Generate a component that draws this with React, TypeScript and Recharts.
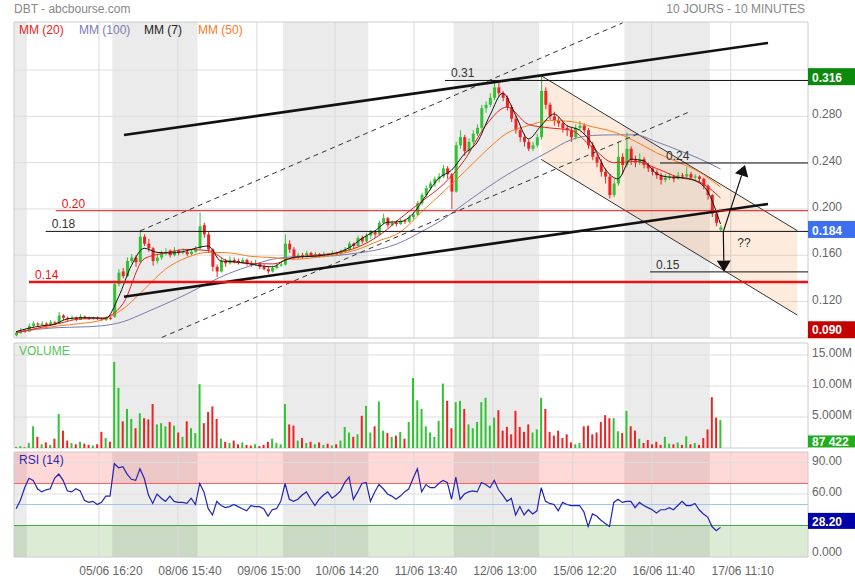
import React from 'react';
import {
  ComposedChart, Bar, Line, Area, Cell, XAxis, YAxis,
  ReferenceLine, ReferenceArea, ReferenceDot,
} from 'recharts';

const FONT = 'Arial, "Liberation Sans", sans-serif';
const UP = '#33c233';
const DOWN = '#ee2222';

// grouped 10-min candles, 20 per session (first session is partial)
const opens = [
  0.091, 0.093, 0.095,
  0.094, 0.099, 0.101, 0.100, 0.101, 0.100, 0.102, 0.101, 0.108, 0.106, 0.105, 0.106, 0.104, 0.107, 0.106, 0.105, 0.106, 0.105, 0.104, 0.106,
  0.107, 0.135, 0.146, 0.142, 0.155, 0.158, 0.154, 0.176, 0.170, 0.166, 0.155, 0.158, 0.162, 0.164, 0.160, 0.164, 0.162, 0.163, 0.161, 0.163,
  0.166, 0.186, 0.178, 0.165, 0.150, 0.146, 0.155, 0.153, 0.156, 0.155, 0.154, 0.156, 0.153, 0.152, 0.153, 0.150, 0.148, 0.146, 0.149, 0.151,
  0.152, 0.170, 0.165, 0.158, 0.160, 0.159, 0.162, 0.160, 0.161, 0.159, 0.161, 0.160, 0.162, 0.161, 0.163, 0.165, 0.170, 0.168, 0.175, 0.172,
  0.177, 0.180, 0.178, 0.188, 0.192, 0.186, 0.188, 0.187, 0.190, 0.189, 0.193, 0.195, 0.205, 0.212, 0.218, 0.222, 0.226, 0.228, 0.235, 0.230,
  0.215, 0.255, 0.262, 0.250, 0.258, 0.265, 0.270, 0.287, 0.290, 0.296, 0.305, 0.300, 0.296, 0.288, 0.278, 0.268, 0.262, 0.258, 0.252, 0.255,
  0.262, 0.302, 0.290, 0.280, 0.276, 0.274, 0.270, 0.268, 0.262, 0.270, 0.272, 0.268, 0.255, 0.245, 0.240, 0.232, 0.228, 0.212, 0.222, 0.245,
  0.238, 0.252, 0.242, 0.240, 0.243, 0.238, 0.235, 0.232, 0.229, 0.225, 0.227, 0.228, 0.226, 0.229, 0.228, 0.230, 0.227, 0.228, 0.226, 0.220,
  0.212, 0.196, 0.182,
];
const highs = [
  0.094, 0.097, 0.096,
  0.101, 0.103, 0.102, 0.103, 0.102, 0.104, 0.103, 0.111, 0.109, 0.107, 0.108, 0.107, 0.109, 0.108, 0.107, 0.107, 0.107, 0.106, 0.107, 0.107,
  0.138, 0.148, 0.149, 0.158, 0.161, 0.160, 0.181, 0.178, 0.174, 0.167, 0.161, 0.164, 0.166, 0.165, 0.167, 0.165, 0.166, 0.164, 0.165, 0.168,
  0.197, 0.188, 0.180, 0.166, 0.152, 0.158, 0.157, 0.159, 0.158, 0.157, 0.158, 0.157, 0.155, 0.156, 0.154, 0.152, 0.150, 0.151, 0.153, 0.154,
  0.178, 0.173, 0.167, 0.162, 0.162, 0.164, 0.163, 0.163, 0.162, 0.163, 0.162, 0.164, 0.163, 0.165, 0.167, 0.172, 0.171, 0.177, 0.177, 0.179,
  0.182, 0.181, 0.190, 0.196, 0.193, 0.190, 0.190, 0.192, 0.191, 0.195, 0.197, 0.207, 0.214, 0.220, 0.224, 0.228, 0.231, 0.238, 0.237, 0.231,
  0.258, 0.268, 0.264, 0.261, 0.268, 0.273, 0.290, 0.293, 0.300, 0.311, 0.309, 0.302, 0.298, 0.290, 0.281, 0.271, 0.265, 0.260, 0.258, 0.265,
  0.316, 0.305, 0.292, 0.284, 0.279, 0.276, 0.272, 0.270, 0.273, 0.276, 0.274, 0.270, 0.258, 0.248, 0.243, 0.235, 0.230, 0.226, 0.258, 0.248,
  0.266, 0.254, 0.246, 0.248, 0.245, 0.240, 0.237, 0.234, 0.231, 0.230, 0.231, 0.229, 0.232, 0.231, 0.236, 0.232, 0.230, 0.229, 0.227, 0.221,
  0.213, 0.199, 0.186,
];
const lows = [
  0.090, 0.092, 0.093,
  0.094, 0.098, 0.098, 0.099, 0.099, 0.099, 0.100, 0.101, 0.104, 0.103, 0.104, 0.103, 0.104, 0.105, 0.104, 0.104, 0.104, 0.103, 0.103, 0.104,
  0.106, 0.133, 0.140, 0.141, 0.153, 0.150, 0.153, 0.168, 0.163, 0.151, 0.153, 0.156, 0.160, 0.158, 0.159, 0.160, 0.161, 0.159, 0.160, 0.162,
  0.165, 0.175, 0.162, 0.146, 0.141, 0.145, 0.150, 0.152, 0.153, 0.152, 0.153, 0.151, 0.150, 0.151, 0.148, 0.147, 0.144, 0.145, 0.148, 0.150,
  0.151, 0.162, 0.156, 0.157, 0.157, 0.158, 0.159, 0.159, 0.158, 0.158, 0.159, 0.159, 0.160, 0.160, 0.162, 0.164, 0.166, 0.167, 0.170, 0.171,
  0.174, 0.175, 0.177, 0.187, 0.184, 0.185, 0.185, 0.186, 0.187, 0.188, 0.191, 0.194, 0.203, 0.210, 0.216, 0.219, 0.223, 0.227, 0.226, 0.200,
  0.214, 0.252, 0.246, 0.248, 0.256, 0.263, 0.268, 0.283, 0.288, 0.294, 0.297, 0.293, 0.285, 0.275, 0.265, 0.258, 0.254, 0.250, 0.250, 0.253,
  0.260, 0.286, 0.277, 0.272, 0.271, 0.266, 0.263, 0.258, 0.260, 0.268, 0.265, 0.252, 0.242, 0.236, 0.228, 0.222, 0.209, 0.210, 0.220, 0.230,
  0.236, 0.238, 0.236, 0.238, 0.235, 0.232, 0.229, 0.226, 0.221, 0.223, 0.225, 0.223, 0.225, 0.226, 0.227, 0.225, 0.225, 0.223, 0.217, 0.208,
  0.193, 0.185, 0.181,
];
const closes = [
  0.093, 0.095, 0.094,
  0.099, 0.101, 0.100, 0.101, 0.100, 0.102, 0.101, 0.108, 0.106, 0.105, 0.106, 0.104, 0.107, 0.106, 0.105, 0.106, 0.105, 0.104, 0.106, 0.105,
  0.135, 0.145, 0.142, 0.155, 0.158, 0.154, 0.176, 0.170, 0.166, 0.155, 0.158, 0.162, 0.163, 0.160, 0.164, 0.162, 0.163, 0.161, 0.163, 0.165,
  0.185, 0.178, 0.165, 0.150, 0.146, 0.155, 0.153, 0.156, 0.155, 0.154, 0.156, 0.153, 0.152, 0.153, 0.150, 0.148, 0.146, 0.149, 0.151, 0.152,
  0.170, 0.165, 0.158, 0.160, 0.159, 0.162, 0.160, 0.161, 0.159, 0.161, 0.160, 0.162, 0.161, 0.163, 0.165, 0.170, 0.168, 0.175, 0.172, 0.177,
  0.180, 0.178, 0.188, 0.192, 0.186, 0.188, 0.187, 0.190, 0.189, 0.193, 0.195, 0.205, 0.212, 0.218, 0.222, 0.226, 0.228, 0.235, 0.230, 0.215,
  0.255, 0.262, 0.250, 0.258, 0.265, 0.270, 0.287, 0.290, 0.296, 0.305, 0.300, 0.296, 0.288, 0.278, 0.268, 0.262, 0.258, 0.252, 0.255, 0.262,
  0.302, 0.290, 0.280, 0.276, 0.274, 0.270, 0.268, 0.262, 0.270, 0.272, 0.268, 0.255, 0.245, 0.240, 0.232, 0.228, 0.212, 0.222, 0.245, 0.238,
  0.252, 0.242, 0.240, 0.243, 0.238, 0.235, 0.232, 0.229, 0.225, 0.227, 0.228, 0.226, 0.229, 0.228, 0.230, 0.227, 0.228, 0.226, 0.220, 0.212,
  0.196, 0.188, 0.184,
];
// volume in millions
const volumes = [
  0.2, 0.3, 0.1,
  0.8, 3.5, 1.8, 0.6, 0.9, 0.5, 1.5, 5.5, 2.8, 1.2, 0.8, 0.6, 1.0, 0.7, 0.5, 0.4, 0.6, 2.6, 1.6, 1.0,
  13.9, 9.7, 4.3, 6.3, 4.7, 3.2, 5.6, 4.8, 4.6, 7.1, 3.8, 4.0, 3.5, 4.2, 3.6, 2.5, 1.8, 4.3, 3.2, 2.4,
  10.3, 4.0, 5.8, 6.7, 4.7, 1.5, 1.0, 0.8, 1.2, 0.6, 0.9, 0.5, 0.4, 0.6, 0.3, 0.5, 1.0, 1.5, 0.8, 0.6,
  7.1, 3.8, 3.6, 1.2, 1.6, 0.8, 1.0, 0.6, 0.9, 0.5, 0.7, 0.4, 0.6, 1.2, 3.4, 2.5, 1.8, 2.2, 5.2, 6.8,
  2.5, 3.5, 7.5, 2.8, 2.4, 1.8, 2.0, 2.6, 1.5, 4.2, 11.3, 7.7, 6.3, 3.5, 2.5, 1.8, 4.4, 10.4, 7.6, 3.2,
  7.4, 7.6, 6.3, 3.8, 3.2, 4.2, 7.4, 8.1, 3.6, 4.9, 6.1, 2.8, 3.4, 2.2, 6.0, 3.4, 2.6, 3.8, 2.5, 3.0,
  8.1, 6.3, 2.6, 2.0, 2.8, 1.6, 2.2, 0.9, 0.6, 0.8, 3.5, 3.6, 2.2, 2.5, 4.2, 5.3, 4.8, 4.8, 2.7, 2.4,
  6.0, 3.5, 2.8, 1.5, 0.8, 1.3, 0.6, 1.0, 0.5, 1.8, 0.7, 0.6, 0.9, 0.5, 1.9, 0.6, 0.8, 0.5, 1.6, 3.0,
  8.2, 4.9, 4.5,
];
const rsi14 = [
  46, 54, 66,
  75, 73, 65, 62, 64, 65, 75, 79, 73, 63, 62, 65, 63, 54, 52, 53, 50, 52, 58, 58,
  89, 85, 86, 79, 74, 73, 84, 75, 59, 51, 60, 56, 53, 58, 53, 52, 52, 51, 56, 50,
  70, 62, 46, 40, 53, 49, 47, 48, 50, 48, 46, 44, 49, 48, 48, 46, 39, 45, 46, 53,
  70, 55, 53, 55, 59, 62, 55, 49, 55, 59, 62, 56, 59, 63, 71, 76, 55, 62, 70, 71,
  53, 62, 69, 65, 60, 58, 55, 58, 62, 65, 75, 84, 62, 69, 66, 66, 70, 73, 71, 55,
  76, 55, 60, 62, 63, 62, 71, 69, 66, 73, 64, 59, 53, 56, 40, 48, 40, 45, 41, 44,
  66, 53, 51, 50, 44, 52, 50, 49, 49, 49, 43, 29, 41, 39, 35, 32, 29, 52, 55, 52,
  53, 53, 47, 52, 49, 47, 45, 42, 45, 45, 47, 45, 49, 53, 49, 49, 51, 45, 41, 38,
  29, 25, 28.2,
];

const maIdx = [0, 5, 10, 15, 20, 25, 30, 35, 40, 45, 50, 55, 60, 65, 70, 75, 80, 85, 90, 95, 100, 105, 110, 115, 120, 125, 130, 135, 140, 145, 150, 155, 160, 165];
const mm20 = [0.093, 0.097, 0.101, 0.105, 0.1055, 0.118, 0.157, 0.162, 0.165, 0.164, 0.1545, 0.153, 0.1525, 0.158, 0.160, 0.162, 0.167, 0.177, 0.192, 0.2065, 0.221, 0.242, 0.272, 0.288, 0.273, 0.270, 0.268, 0.253, 0.240, 0.241, 0.235, 0.2275, 0.2235, 0.2095];
const mm50 = [0.0935, 0.0965, 0.099, 0.101, 0.104, 0.1135, 0.1305, 0.148, 0.158, 0.1625, 0.162, 0.159, 0.158, 0.1565, 0.158, 0.1605, 0.165, 0.1725, 0.180, 0.1975, 0.2145, 0.232, 0.250, 0.2655, 0.272, 0.2765, 0.2755, 0.271, 0.2665, 0.2585, 0.2485, 0.2405, 0.232, 0.219];
const mm100 = [0.0935, 0.096, 0.0975, 0.098, 0.099, 0.1025, 0.110, 0.118, 0.1265, 0.136, 0.1445, 0.151, 0.1565, 0.1586, 0.159, 0.1597, 0.162, 0.165, 0.171, 0.1805, 0.191, 0.2045, 0.2175, 0.2295, 0.240, 0.250, 0.2598, 0.2635, 0.264, 0.264, 0.258, 0.251, 0.2435, 0.2345];
const mm7Idx = [0, 3, 6, 9, 12, 15, 18, 21, 24, 27, 30, 33, 36, 39, 42, 45, 48, 51, 54, 57, 60, 63, 66, 69, 72, 75, 78, 81, 84, 87, 90, 93, 96, 99, 102, 105, 108, 111, 114, 117, 120, 123, 126, 129, 132, 135, 138, 141, 144, 147, 150, 153, 156, 159, 162, 165];
const mm7 = [0.094, 0.097, 0.099, 0.1005, 0.105, 0.106, 0.106, 0.1055, 0.124, 0.151, 0.166, 0.1625, 0.162, 0.163, 0.166, 0.168, 0.155, 0.1545, 0.153, 0.151, 0.150, 0.156, 0.1585, 0.159, 0.160, 0.162, 0.1665, 0.1745, 0.181, 0.1885, 0.189, 0.196, 0.2115, 0.2265, 0.2335, 0.2475, 0.2575, 0.281, 0.300, 0.281, 0.2605, 0.272, 0.282, 0.272, 0.268, 0.256, 0.2345, 0.226, 0.243, 0.2415, 0.2305, 0.2275, 0.227, 0.2245, 0.215, 0.187];

// descending channel
const channelIdx = [123, 183];
const channelLow = [0.2428, 0.1083];
const channelHigh = [0.3151, 0.1812];

// drawn annotations: [slot, price]
const upperTrend = [[25.77, 0.2639], [176.63, 0.3434]];
const lowerTrend = [[25.77, 0.1242], [176.63, 0.2043]];
const upperDash = [[29.52, 0.181], [142.55, 0.3607]];
const lowerDash = [[34.62, 0.089], [158.36, 0.2841]];
const arrowFrom = [166.16, 0.1804];
const arrowUpTo = [171.24, 0.238];
const arrowDownTo = [166.32, 0.1458];
const questionAt = [171.0, 0.1715];

const levelNames = ['0.31', '0.24', '0.20', '0.18', '0.14', '0.15'];
const levelValues = [0.311, 0.2397, 0.1985, 0.1806, 0.1369, 0.1456];
const levelStarts = [100.96, 151.33, 9.77, 7.43, 3.51, 149.0];

const SLOTS = 186;
const sessionBands = [[0, 3], [23, 43], [63, 83], [103, 123], [143, 163]];
const gridX = [19.9, 38.4, 56.9, 75.2, 93.7, 112.2, 130.9, 149.4, 167.9];
const dateLabels = ['05/06 16:20', '08/06 15:40', '09/06 15:00', '10/06 14:20', '11/06 13:40', '12/06 13:00', '15/06 12:20', '16/06 11:40', '17/06 11:10'];

const priceTicks = [0.12, 0.16, 0.2, 0.24, 0.28, 0.32];
const volTicks = [5, 10, 15];
const volTickLabels = ['5.000M', '10.00M', '15.00M'];
const rsiTicks = [0, 30, 60, 90];
const rsiTickLabels = ['0.000', '30.00', '60.00', '90.00'];

const rows: any[] = Array.from({ length: SLOTS }, (_, i) => ({
  i,
  x: i + 0.5,
  o: opens[i], h: highs[i], l: lows[i], c: closes[i],
  vol: volumes[i],
  rsi: rsi14[i],
}));
maIdx.forEach((k, j) => {
  rows[k].mm20 = mm20[j];
  rows[k].mm50 = mm50[j];
  rows[k].mm100 = mm100[j];
});
mm7Idx.forEach((k, j) => { rows[k].mm7 = mm7[j]; });
channelIdx.forEach((k, j) => { rows[k].ch = [channelLow[j], channelHigh[j]]; });

const Candle = (props: any) => {
  const { x, y, width, height, payload } = props;
  if (!payload || payload.c == null || !isFinite(y) || !isFinite(height)) return <g />;
  const top = Math.min(y, y + height);
  const span = Math.abs(height);
  const { o, h, l, c } = payload;
  const at = (v: number) => (h === l ? top : top + ((h - v) / (h - l)) * span);
  const col = c >= o ? UP : DOWN;
  const mid = x + width / 2;
  const b1 = at(Math.max(o, c));
  const b2 = at(Math.min(o, c));
  return (
    <g>
      <line x1={mid} x2={mid} y1={top} y2={top + span} stroke={col} strokeWidth={1} />
      <rect x={x} y={b1} width={width} height={Math.max(1, b2 - b1)} fill={col} />
    </g>
  );
};

const Arrow = (p: any) => {
  const { x1, y1, x2, y2 } = p;
  const dx = x2 - x1;
  const dy = y2 - y1;
  const len = Math.hypot(dx, dy) || 1;
  const ux = dx / len;
  const uy = dy / len;
  const bx = x2 - ux * 11;
  const by = y2 - uy * 11;
  const pts = `${x2},${y2} ${bx - uy * 7},${by + ux * 7} ${bx + uy * 7},${by - ux * 7}`;
  return (
    <g>
      <line x1={x1} y1={y1} x2={bx} y2={by} stroke="#111" strokeWidth={1.2} />
      <polygon points={pts} fill="#111" />
    </g>
  );
};

const SegLabel = ({ viewBox, txt, col }: any) => {
  if (!viewBox) return null;
  return (
    <text x={viewBox.x + 6} y={viewBox.y - 3} fill={col} fontSize={12}>{txt}</text>
  );
};

const ValueBox = ({ viewBox, txt, bg, boxTop, boxH, textY }: any) => {
  if (!viewBox) return null;
  const x = viewBox.x + viewBox.width;
  const y = viewBox.y;
  return (
    <g>
      <rect x={x} y={y + boxTop} width={47} height={boxH} fill={bg} />
      <text x={x + 4} y={y + textY} fill="#fff" fontSize={12} fontWeight="bold">{txt}</text>
    </g>
  );
};

const backdrop = (hLines: number[]) => [
  ...sessionBands.map(([a, b], k) => (
    <ReferenceArea key={'band' + k} xAxisId="n" x1={a} x2={b} fill="#000" fillOpacity={0.08} stroke="none" zIndex={-60} />
  )),
  ...hLines.map((v, k) => (
    <ReferenceLine key={'hg' + k} xAxisId="n" y={v} stroke="#dedede" zIndex={-50} />
  )),
  ...gridX.map((g, k) => (
    <ReferenceLine key={'vg' + k} xAxisId="n" x={g} stroke="#d9d9d9" zIndex={-50} />
  )),
  <ReferenceArea key="frame" xAxisId="n" x1={0} x2={SLOTS} fill="none" stroke="#cccccc" zIndex={-40} />,
];

const seg = (pts: number[][]) => [{ x: pts[0][0], y: pts[0][1] }, { x: pts[1][0], y: pts[1][1] }];

const PriceChart = () => (
  <ComposedChart width={855} height={340} data={rows} margin={{ top: 22, right: 0, bottom: 2, left: 14 }}>
    <XAxis dataKey="i" type="category" hide />
    <XAxis xAxisId="n" dataKey="x" type="number" domain={[0, SLOTS]} allowDataOverflow hide />
    <YAxis
      orientation="right" width={47} domain={[0.0885, 0.3615]} ticks={priceTicks} allowDataOverflow
      axisLine={false} tickLine={false} tickSize={0} tickMargin={4}
      tick={(p: any) => (p.payload.value > 0.3 ? <g /> : (
        <text x={p.x} y={p.y + 2} fill="#666" fontSize={12}>{Number(p.payload.value).toFixed(3)}</text>
      ))}
    />
    {backdrop(priceTicks)}
    <Area
      dataKey="ch" type="linear" connectNulls fill="#f59a55" fillOpacity={0.2}
      stroke="#333" strokeWidth={1} dot={false} activeDot={false} isAnimationActive={false}
    />
    <Bar dataKey={(d: any) => (d.c == null ? null : [d.l, d.h])} barSize={3} shape={<Candle />} isAnimationActive={false} />
    <Line dataKey="mm100" type="monotone" connectNulls stroke="#7b7bb0" strokeWidth={1} dot={false} activeDot={false} isAnimationActive={false} />
    <Line dataKey="mm50" type="monotone" connectNulls stroke="#ff7a1a" strokeWidth={1} dot={false} activeDot={false} isAnimationActive={false} />
    <Line dataKey="mm20" type="monotone" connectNulls stroke="#ee1c1c" strokeWidth={1} dot={false} activeDot={false} isAnimationActive={false} />
    <Line dataKey="mm7" type="monotone" connectNulls stroke="#151515" strokeWidth={1} dot={false} activeDot={false} isAnimationActive={false} />
    <ReferenceLine xAxisId="n" segment={seg(upperDash)} stroke="#333" strokeDasharray="5 4" zIndex={500} />
    <ReferenceLine xAxisId="n" segment={seg(lowerDash)} stroke="#333" strokeDasharray="5 4" zIndex={500} />
    <ReferenceLine xAxisId="n" segment={seg(upperTrend)} stroke="#111" strokeWidth={2.6} zIndex={500} />
    <ReferenceLine xAxisId="n" segment={seg(lowerTrend)} stroke="#111" strokeWidth={2.6} zIndex={500} />
    {levelNames.map((name, k) => {
      const red = name === '0.20' || name === '0.14';
      return (
        <ReferenceLine
          key={'lvl' + k} xAxisId="n" zIndex={500}
          segment={[{ x: levelStarts[k], y: levelValues[k] }, { x: SLOTS, y: levelValues[k] }]}
          stroke={red ? '#ee1111' : '#111'} strokeWidth={name === '0.14' ? 2.6 : 1}
          label={<SegLabel txt={name} col={red ? '#ee1111' : '#333'} />}
        />
      );
    })}
    <ReferenceLine xAxisId="n" segment={seg([arrowFrom, arrowUpTo])} shape={(p: any) => <Arrow {...p} />} zIndex={500} />
    <ReferenceLine xAxisId="n" segment={seg([arrowFrom, arrowDownTo])} shape={(p: any) => <Arrow {...p} />} zIndex={500} />
    <ReferenceDot
      xAxisId="n" x={questionAt[0]} y={questionAt[1]} r={0} zIndex={500}
      shape={(p: any) => <text x={p.cx} y={p.cy + 5} textAnchor="middle" fill="#333" fontSize={12}>??</text>}
    />
    <ReferenceLine xAxisId="n" y={0.316} stroke="none" label={<ValueBox txt="0.316" bg="#0b8a0b" boxTop={-6.5} boxH={17} textY={7.5} />} />
    <ReferenceLine xAxisId="n" y={0.184} stroke="none" label={<ValueBox txt="0.184" bg="#3d6ff2" boxTop={-6.5} boxH={17} textY={7.5} />} />
    <ReferenceLine xAxisId="n" y={0.09} stroke="none" label={<ValueBox txt="0.090" bg="#c40000" boxTop={-15} boxH={17} textY={-2.5} />} />
  </ComposedChart>
);

const VolumeChart = () => (
  <ComposedChart width={855} height={110} data={rows} margin={{ top: 3, right: 0, bottom: 2, left: 14 }}>
    <XAxis dataKey="i" type="category" hide />
    <XAxis xAxisId="n" dataKey="x" type="number" domain={[0, SLOTS]} allowDataOverflow hide />
    <YAxis
      orientation="right" width={47} domain={[0, 16.94]} ticks={volTicks} allowDataOverflow
      axisLine={false} tickLine={false} tickSize={0} tickMargin={4}
      tick={(p: any) => (
        <text x={p.x} y={p.y + 2} fill="#666" fontSize={12}>{volTickLabels[volTicks.indexOf(p.payload.value)]}</text>
      )}
    />
    {backdrop(volTicks)}
    <Bar dataKey="vol" barSize={2} isAnimationActive={false}>
      {rows.map((r, k) => (
        <Cell key={'v' + k} fill={r.c != null && r.c >= r.o ? UP : DOWN} />
      ))}
    </Bar>
    <ReferenceLine xAxisId="n" y={0.087} stroke="none" label={<ValueBox txt="87 422" bg="#1fae1f" boxTop={-12} boxH={12} textY={-1.5} />} />
  </ComposedChart>
);

const RsiChart = () => (
  <ComposedChart width={855} height={130} data={rows} margin={{ top: 2, right: 0, bottom: 0, left: 14 }}>
    <XAxis
      xAxisId="n" dataKey="x" type="number" domain={[0, SLOTS]} allowDataOverflow ticks={gridX} interval={0}
      height={23} axisLine={false} tickLine={false} tickSize={0} tickMargin={0}
      tick={(p: any) => (
        <text x={p.x + 12} y={p.y + 18} textAnchor="middle" fill="#666" fontSize={12}>
          {dateLabels[gridX.indexOf(p.payload.value)]}
        </text>
      )}
    />
    <YAxis
      orientation="right" width={47} domain={[0, 100]} ticks={rsiTicks} allowDataOverflow
      axisLine={false} tickLine={false} tickSize={0} tickMargin={4}
      tick={(p: any) => (p.payload.value === 30 ? <g /> : (
        <text x={p.x} y={p.payload.value === 0 ? p.y - 1 : p.y + 2} fill="#666" fontSize={12}>
          {rsiTickLabels[rsiTicks.indexOf(p.payload.value)]}
        </text>
      ))}
    />
    <ReferenceArea xAxisId="n" y1={70} y2={100} fill="#ffd8d8" fillOpacity={1} stroke="none" zIndex={-70} />
    <ReferenceArea xAxisId="n" y1={0} y2={30} fill="#dcecd4" fillOpacity={1} stroke="none" zIndex={-70} />
    {backdrop([60, 90])}
    <ReferenceLine xAxisId="n" y={70} stroke="#ff6262" zIndex={-30} />
    <ReferenceLine xAxisId="n" y={50} stroke="#9fc6f0" zIndex={-30} />
    <ReferenceLine xAxisId="n" y={30} stroke="#44aa44" zIndex={-30} />
    <Line xAxisId="n" dataKey="rsi" type="linear" stroke="#2323b5" strokeWidth={1.2} dot={false} activeDot={false} isAnimationActive={false} />
    <ReferenceLine xAxisId="n" y={28.2} stroke="none" label={<ValueBox txt="28.20" bg="#0000aa" boxTop={-14.5} boxH={16} textY={-1.5} />} />
  </ComposedChart>
);

const legend = [
  { text: 'MM (20)', color: '#ee1c1c', left: 19 },
  { text: 'MM (100)', color: '#7b7bb0', left: 79 },
  { text: 'MM (7)', color: '#222', left: 144 },
  { text: 'MM (50)', color: '#ff7a1a', left: 198 },
];

export default function App() {
  const txt = { position: 'absolute' as const, fontSize: 12, lineHeight: '14px', whiteSpace: 'nowrap' as const };
  return (
    <div style={{ position: 'absolute', left: 0, top: 0, width: 855, height: 580, background: '#fff', fontFamily: FONT, overflow: 'hidden' }}>
      <div style={{ position: 'absolute', left: 0, top: 0 }}><PriceChart /></div>
      <div style={{ position: 'absolute', left: 0, top: 340 }}><VolumeChart /></div>
      <div style={{ position: 'absolute', left: 0, top: 450 }}><RsiChart /></div>
      <div style={{ ...txt, left: 14, top: 2, color: '#888' }}>DBT - abcbourse.com</div>
      <div style={{ ...txt, right: 50, top: 2, color: '#888' }}>10 JOURS - 10 MINUTES</div>
      {legend.map((l) => (
        <div key={l.text} style={{ ...txt, left: l.left, top: 23, color: l.color }}>{l.text}</div>
      ))}
      <div style={{ ...txt, left: 19, top: 344, color: '#55c455' }}>VOLUME</div>
      <div style={{ ...txt, left: 19, top: 453, color: '#2a2ab0' }}>RSI (14)</div>
    </div>
  );
}
